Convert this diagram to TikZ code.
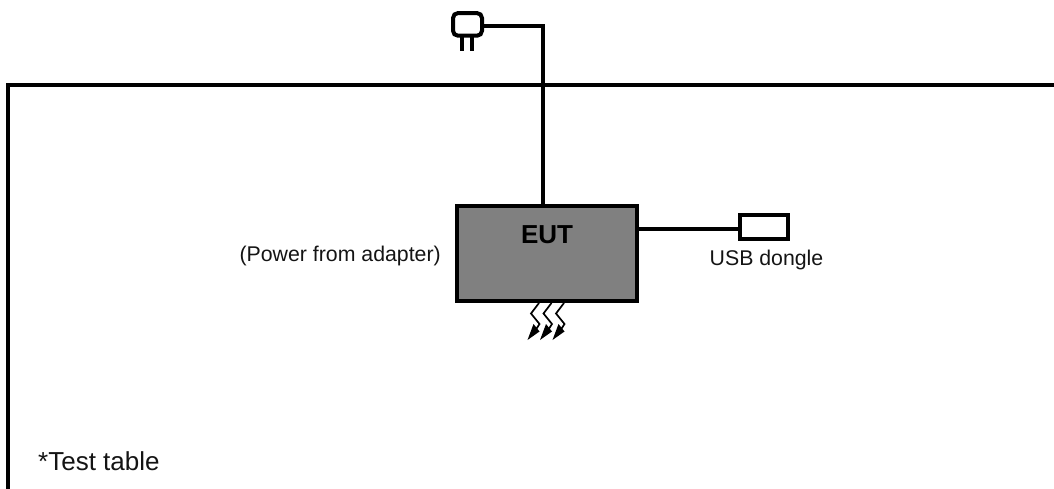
\documentclass[tikz,border=0pt]{standalone}
\usepackage{fontspec}
\setmainfont{Liberation Sans}
\usetikzlibrary{arrows.meta}
\tikzset{
  thickline/.style={line width=4pt,black},
  boxline/.style={draw=black,line width=4pt},
  label/.style={font=\fontsize{21.3}{25}\selectfont,inner sep=0pt,text=black!92},
  bolt/.style={line width=1.7pt,black,line join=miter},
  bolthead/.style={fill=black,draw=none}
}
\begin{document}
\begin{tikzpicture}[x=1pt,y=-1pt]
\useasboundingbox (0,0) rectangle (1054,489);
% table
\coordinate (tl) at (8,85.3);
\coordinate (tb) at (8,489);
\coordinate (tr) at (1054,85.3);
\draw[thickline,line join=miter] (tb) -- (tl) -- (tr);
% plug
\node[boxline,rounded corners=5pt,minimum width=29pt,minimum height=22.7pt,inner sep=0pt,outer sep=0pt] (plug) at (467.5,24.4) {};
\draw[line width=4pt] (462.3,36) -- (462.3,51);
\draw[line width=4pt] (472.3,36) -- (472.3,51);
% EUT
\node[boxline,fill=black!50,minimum width=180.3pt,minimum height=94.7pt,inner sep=0pt,outer sep=0pt] (eut) at (546.9,253.3) {};
\node[font=\bfseries\fontsize{26}{30}\selectfont,inner sep=0pt,text=black,anchor=base] (eutl) at (547,243) {EUT};
\coordinate (corner) at (543,26);
\draw[thickline,line join=miter] (plug.east |- corner) -- (corner) -- (corner |- eut.north);
% dongle
\node[boxline,minimum width=47.7pt,minimum height=23.4pt,inner sep=0pt,outer sep=0pt] (dongle) at (764.2,227) {};
\draw[thickline] (eut.east |- 0,229) -- (dongle.west |- 0,229);
% labels
\node[label,anchor=base east] (adp) at (441,261) {(Power from adapter)};
\node[label,anchor=base] (usb) at (766.5,265) {USB dongle};
\node[font=\fontsize{26}{30}\selectfont,inner sep=0pt,anchor=base west,text=black!92] (tt) at (38,470) {*Test table};
% radiation bolts
\foreach \d in {0,12.5,25}{
  \begin{scope}[xshift=\d pt]
    \draw[bolt] (539,303) -- (531,313.5) -- (539.5,324) -- (535,331);
    \fill[bolthead] (527.5,340) -- (533.5,324) -- (539.5,331.5) -- cycle;
  \end{scope}
}
\end{tikzpicture}
\end{document}
